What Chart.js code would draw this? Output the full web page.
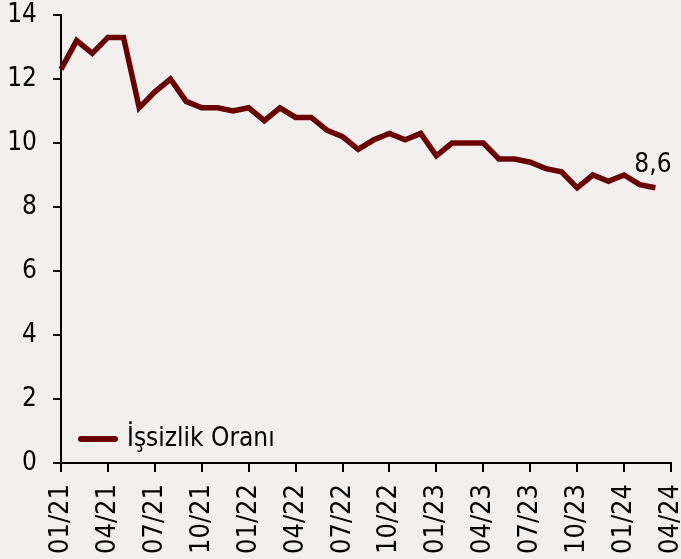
<!DOCTYPE html>
<html>
<head>
<meta charset="utf-8">
<script src="https://cdn.jsdelivr.net/npm/chart.js@4.4.1/dist/chart.umd.min.js"></script>
<style>
  html, body { margin: 0; padding: 0; background: #f2f0ee; }
  #wrap { width: 681px; height: 559px; }
</style>
</head>
<body>
<div id="wrap"><canvas id="issizlik" width="681" height="559"></canvas></div>
<script>
var months = ['01/21','02/21','03/21','04/21','05/21','06/21','07/21','08/21','09/21','10/21','11/21','12/21',
              '01/22','02/22','03/22','04/22','05/22','06/22','07/22','08/22','09/22','10/22','11/22','12/22',
              '01/23','02/23','03/23','04/23','05/23','06/23','07/23','08/23','09/23','10/23','11/23','12/23',
              '01/24','02/24','03/24','04/24'];
var issizlikOrani = [12.3, 13.2, 12.8, 13.3, 13.3, 11.1, 11.6, 12.0, 11.3, 11.1, 11.1, 11.0,
                     11.1, 10.7, 11.1, 10.8, 10.8, 10.4, 10.2, 9.8, 10.1, 10.3, 10.1, 10.3,
                     9.6, 10.0, 10.0, 10.0, 9.5, 9.5, 9.4, 9.2, 9.1, 8.6, 9.0, 8.8,
                     9.0, 8.7, 8.6];
var seriesName = 'İşsizlik Oranı';
var yTicks = [0, 2, 4, 6, 8, 10, 12, 14];

var lineColor = '#6b0000';
var fontFam = '"DejaVu Sans Condensed", "DejaVu Sans", sans-serif';

// legend + last value label drawn inside the plot
const extras = {
    id: 'extras',
    afterDatasetsDraw(chart) {
        const c = chart.ctx;
        const area = chart.chartArea;
        c.save();
        // legend
        const ly = area.bottom - 24;
        c.strokeStyle = lineColor;
        c.lineWidth = 6;
        c.lineCap = 'round';
        c.beginPath();
        c.moveTo(area.left + 20, ly);
        c.lineTo(area.left + 54, ly);
        c.stroke();
        c.fillStyle = '#000';
        c.font = '26px ' + fontFam;
        c.textBaseline = 'middle';
        c.textAlign = 'left';
        c.fillText(seriesName, area.left + 66, ly);
        // last value
        const meta = chart.getDatasetMeta(0);
        const last = meta.data[meta.data.length - 1];
        const v = issizlikOrani[issizlikOrani.length - 1];
        c.font = '26px ' + fontFam;
        c.textBaseline = 'alphabetic';
        c.fillText(String(v).replace('.', ','), last.x - 21, last.y - 16);
        c.restore();
    }
};

var ctx = document.getElementById('issizlik');
new Chart(ctx, {
    type: 'line',
    data: {
        labels: months,
        datasets: [{
            label: seriesName,
            data: issizlikOrani,
            borderColor: lineColor,
            backgroundColor: lineColor,
            borderWidth: 5.5,
            pointRadius: 0,
            tension: 0,
            fill: false
        }]
    },
    options: {
        responsive: false,
        animation: { duration: 0 },
        layout: { padding: { top: 15, right: 10, left: 0, bottom: 0 } },
        plugins: {
            legend: { display: false },
            tooltip: { enabled: false }
        },
        scales: {
            x: {
                offset: false,
                grid: {
                    display: true,
                    drawOnChartArea: false,
                    drawTicks: true,
                    tickLength: 9,
                    lineWidth: 2,
                    color: (c) => (c.index % 3 === 0 ? '#000' : 'rgba(0,0,0,0)')
                },
                border: { color: '#000', width: 2 },
                ticks: {
                    autoSkip: false,
                    maxRotation: 90,
                    minRotation: 90,
                    padding: 12,
                    color: '#000',
                    font: { family: fontFam, size: 27 },
                    callback: function (val, i) { return i % 3 === 0 ? months[i] : ''; }
                },
                afterFit: function (s) { s.height = 96; s.paddingLeft = 0; s.paddingRight = 0; }
            },
            y: {
                min: 0,
                max: 14,
                afterBuildTicks: function (s) { s.ticks = yTicks.map(v => ({ value: v })); },
                grid: {
                    display: true,
                    drawOnChartArea: false,
                    drawTicks: true,
                    tickLength: 8,
                    lineWidth: 2,
                    color: '#000'
                },
                border: { color: '#000', width: 2 },
                ticks: {
                    padding: 16,
                    color: '#000',
                    font: { family: fontFam, size: 26 }
                },
                afterFit: function (s) { s.width = 61; s.paddingTop = 0; s.paddingBottom = 0; }
            }
        }
    },
    plugins: [extras]
});
</script>
</body>
</html>
